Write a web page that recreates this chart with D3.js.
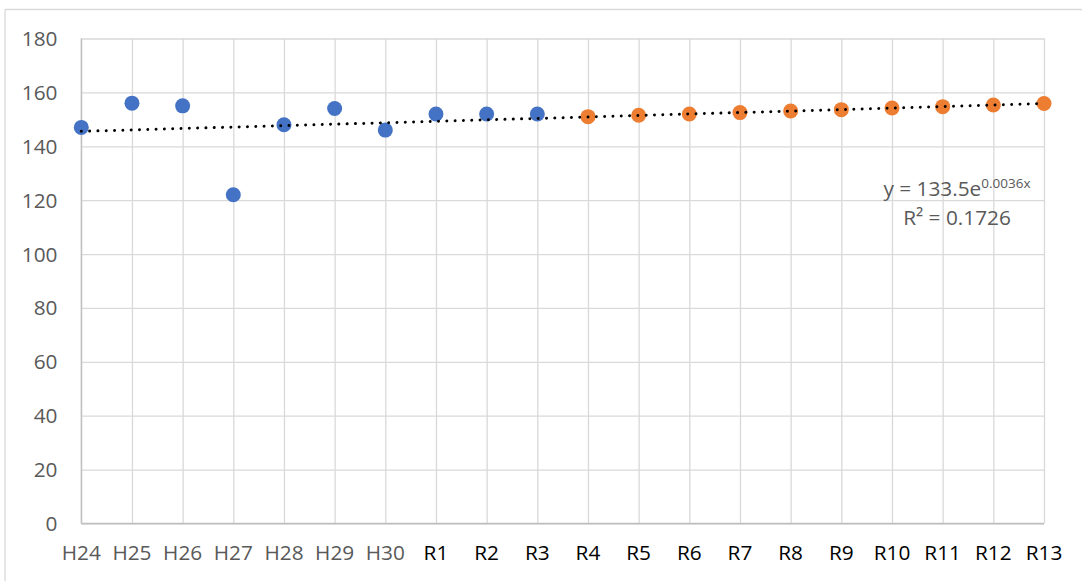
<!DOCTYPE html>
<html>
<head>
<meta charset="utf-8">
<script src="https://cdn.jsdelivr.net/npm/d3@7"></script>
<style>
  html, body { margin: 0; padding: 0; background: #ffffff; }
  svg { display: block; font-family: "Open Sans", sans-serif; }
</style>
</head>
<body>
<svg id="chart" width="1082" height="581"></svg>
<script>
// Category labels (Heisei / Reiwa years)
const categories = ["H24","H25","H26","H27","H28","H29","H30","R1","R2","R3",
                    "R4","R5","R6","R7","R8","R9","R10","R11","R12","R13"];
// Year number used as x in the trend equation (H24 = 24 ... R13 = 43)
const yearIndex = [24,25,26,27,28,29,30,31,32,33,34,35,36,37,38,39,40,41,42,43];

// Observed values (blue)
const actualCats = ["H24","H25","H26","H27","H28","H29","H30","R1","R2","R3"];
const actualVals = [147, 156, 155, 122, 148, 154, 146, 152, 152, 152];

// Projected values (orange)
const forecastCats = ["R4","R5","R6","R7","R8","R9","R10","R11","R12","R13"];
const forecastVals = [151.0, 151.5, 152.0, 152.5, 153.1, 153.6, 154.2, 154.7, 155.3, 155.9];

// Exponential trend: y = a * e^(b x)
const trendA = 133.5;
const trendB = 0.0036;
const trendLabel = ["y = 133.5e", "0.0036x"];
const r2Label = "R² = 0.1726";

const yTicks = [0, 20, 40, 60, 80, 100, 120, 140, 160, 180];

const svg = d3.select("#chart");
const fontSize = 20.8;

// chart frame (top and left edges)
svg.append("line").attr("x1", 5).attr("x2", 1082).attr("y1", 9.5).attr("y2", 9.5)
  .attr("stroke", "#d9d9d9").attr("stroke-width", 1.3);
svg.append("line").attr("x1", 5).attr("x2", 5).attr("y1", 9.5).attr("y2", 581)
  .attr("stroke", "#d9d9d9").attr("stroke-width", 1.3);

const plotLeft = 81.3, plotRight = 1044, plotTop = 38.5, plotBottom = 523.5;

const x = d3.scalePoint().domain(categories).range([plotLeft, plotRight]);
const y = d3.scaleLinear().domain([0, 180]).range([plotBottom, plotTop]);

// horizontal gridlines
svg.append("g")
  .attr("transform", `translate(${plotLeft},0)`)
  .call(d3.axisLeft(y).tickValues(yTicks).tickSize(-(plotRight - plotLeft)).tickFormat(""))
  .call(g => g.select(".domain").remove())
  .call(g => g.selectAll(".tick line").attr("stroke", "#d9d9d9").attr("stroke-width", 1.3));

// vertical gridlines
svg.append("g")
  .attr("transform", `translate(0,${plotBottom})`)
  .call(d3.axisBottom(x).tickSize(-(plotBottom - plotTop)).tickFormat(""))
  .call(g => g.select(".domain").remove())
  .call(g => g.selectAll(".tick line").attr("stroke", "#d9d9d9").attr("stroke-width", 1.3));

// axis lines
svg.append("line").attr("x1", plotLeft).attr("x2", plotLeft).attr("y1", plotTop).attr("y2", plotBottom)
  .attr("stroke", "#bfbfbf").attr("stroke-width", 1.3);
svg.append("line").attr("x1", plotLeft).attr("x2", plotRight).attr("y1", plotBottom).attr("y2", plotBottom)
  .attr("stroke", "#bfbfbf").attr("stroke-width", 1.3);

// y tick labels
svg.append("g")
  .selectAll("text")
  .data(yTicks)
  .join("text")
  .attr("x", 57.5)
  .attr("y", d => y(d))
  .attr("dy", "0.36em")
  .attr("text-anchor", "end")
  .attr("font-size", fontSize)
  .attr("fill", "#595959")
  .text(d => d);

// x tick labels
svg.append("g")
  .selectAll("text")
  .data(categories)
  .join("text")
  .attr("x", d => x(d))
  .attr("y", 560)
  .attr("text-anchor", "middle")
  .attr("font-size", fontSize)
  .attr("fill", d => d.startsWith("H") ? "#595959" : "#000000")
  .text(d => d);

// markers
svg.append("g")
  .selectAll("circle")
  .data(actualCats.map((c, i) => ({ c, v: actualVals[i] })))
  .join("circle")
  .attr("cx", d => x(d.c))
  .attr("cy", d => y(d.v))
  .attr("r", 7.5)
  .attr("fill", "#4472c4");

svg.append("g")
  .selectAll("circle")
  .data(forecastCats.map((c, i) => ({ c, v: forecastVals[i] })))
  .join("circle")
  .attr("cx", d => x(d.c))
  .attr("cy", d => y(d.v))
  .attr("r", 7.5)
  .attr("fill", "#ed7d31");

// dotted exponential trendline
const trendPts = categories.map((c, i) => [x(c), y(trendA * Math.exp(trendB * yearIndex[i]))]);
svg.append("path")
  .attr("d", d3.line()(trendPts))
  .attr("fill", "none")
  .attr("stroke", "#000000")
  .attr("stroke-width", 3)
  .attr("stroke-linecap", "round")
  .attr("stroke-dasharray", "0.01 8.3");

// trend equation
const eq = svg.append("text")
  .attr("x", 957)
  .attr("y", 196)
  .attr("text-anchor", "middle")
  .attr("font-size", fontSize)
  .attr("fill", "#595959");
eq.append("tspan").text(trendLabel[0]);
eq.append("tspan").attr("font-size", 13.5).attr("dy", -8).text(trendLabel[1]);

svg.append("text")
  .attr("x", 957)
  .attr("y", 225)
  .attr("text-anchor", "middle")
  .attr("font-size", fontSize)
  .attr("fill", "#595959")
  .text(r2Label);
</script>
</body>
</html>
